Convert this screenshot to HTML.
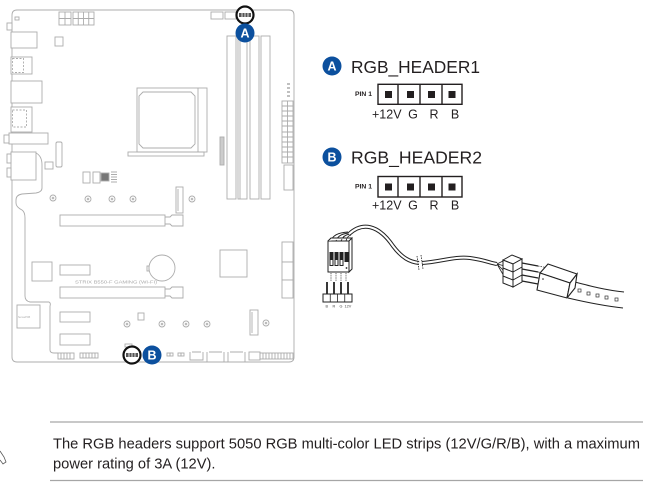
<!DOCTYPE html>
<html><head><meta charset="utf-8"><style>
html,body{margin:0;padding:0;background:#fff;}
svg{display:block;}
</style></head><body>
<svg width="663" height="490" viewBox="0 0 663 490" xmlns="http://www.w3.org/2000/svg">
<!-- ============ MOTHERBOARD ============ -->
<g fill="none" stroke="#acacac" stroke-width="0.9">
  <path d="M12,15 Q12,10 17,10 L289,10 Q294,10 294,15 L294,357 Q294,362 289,362 L17,362 Q12,362 12,357 Z"/>
  <!-- rear IO -->
  <rect x="7" y="23" width="5" height="7" fill="#fff"/>
  <rect x="15" y="17" width="4" height="3"/>
  <rect x="11" y="32" width="26" height="16" fill="#fff"/>
  <rect x="11" y="57" width="21" height="17" fill="#fff"/>
  <rect x="12.5" y="58.5" width="11" height="14" stroke-dasharray="2,1.5"/>
  <rect x="11" y="81" width="31" height="22" fill="#fff"/>
  <rect x="11" y="107" width="21" height="25" fill="#fff"/>
  <rect x="12.5" y="110" width="14" height="17" stroke-dasharray="2,1.5"/>
  <rect x="9" y="133" width="39" height="11" fill="#fff"/>
  <rect x="4" y="135" width="5" height="8" fill="#fff"/>
  <rect x="11" y="152" width="25" height="28" fill="#fff"/>
  <rect x="7" y="154" width="4" height="9" fill="#fff"/>
  <rect x="7" y="168" width="4" height="9" fill="#fff"/>
  <!-- trace line -->
  <path d="M36,153 Q42,156 42,165 L42,188 Q42,192 36,193 L22,194 Q16,195 16,200 L16,203 Q16,207 22,210 Q25,212 25,218 L25,296 Q25,301 30,302 L49,302 Q51,303 50,306 L50,350 Q50,353 54,353 L58,353"/>
  <rect x="17" y="305" width="23" height="23" fill="#fff"/>
  <!-- top power connectors -->
  <rect x="59" y="12" width="12" height="13"/>
  <path d="M65,12 V25 M59,18.5 H71"/>
  <rect x="73" y="12" width="21" height="13"/>
  <path d="M78.25,12 V25 M83.5,12 V25 M88.75,12 V25 M73,18.5 H94"/>
  <rect x="55" y="37" width="8" height="9"/>
  <!-- CPU socket -->
  <rect x="137" y="88" width="70" height="64"/>
  <path d="M143,92 L191,92 L195,96 L195,144 L191,148 L143,148 L139,144 L139,96 Z"/>
  <path d="M198,88 V152"/>
  <rect x="128" y="152" width="76" height="4"/>
  <!-- top small connectors -->
  <rect x="211" y="12" width="12" height="7"/>
  <rect x="225" y="12" width="11" height="7"/>
  <!-- DIMM -->
  <rect x="227" y="36" width="9" height="163"/>
  <rect x="238" y="36" width="9" height="163"/>
  <path d="M240,36 V199"/>
  <rect x="250" y="36" width="9" height="163"/>
  <rect x="261" y="36" width="9" height="163"/>
  <!-- right side -->
  <path d="M287,84 h3 M287,88 h3 M287,92 h3 M287,96 h3" stroke-width="1.4"/>
  <rect x="282" y="101" width="11" height="62"/>
  <path d="M287.5,101 V163 M282,106 H293 M282,111 H293 M282,116 H293 M282,121 H293 M282,126 H293 M282,132 H293 M282,137 H293 M282,142 H293 M282,147 H293 M282,152 H293 M282,157 H293"/>
  <rect x="284" y="165" width="9" height="25"/>
  <rect x="220" y="137" width="4" height="28" fill="#ccc"/>
  <!-- mid-left -->
  <rect x="56" y="142" width="6" height="25" rx="1.5"/>
  <rect x="45" y="162" width="8" height="7"/>
  <rect x="83" y="172" width="7" height="11"/>
  <rect x="93" y="172" width="7" height="11"/>
  <rect x="101" y="173" width="8" height="8" fill="#777"/>
  <path d="M111,172 h6 M111,174.5 h6 M111,177 h6 M111,179.5 h6 M111,182 h6"/>
  <!-- M.2 / screws -->
  <rect x="176" y="187" width="7" height="26"/>
  <path d="M178,189 V211"/>
  <rect x="250" y="310" width="8" height="25"/>
  <path d="M252,312 V333"/>
  <g fill="#fff">
  <circle cx="53" cy="198" r="3"/><circle cx="88" cy="199" r="3"/><circle cx="112" cy="199" r="3"/><circle cx="133" cy="199" r="3"/><circle cx="192" cy="199" r="3"/>
  <circle cx="127" cy="324" r="3"/><circle cx="162" cy="324" r="3"/><circle cx="186" cy="324" r="3"/><circle cx="207" cy="324" r="3"/><circle cx="266" cy="323" r="3"/>
  </g>
  <g fill="#bbb" stroke="none">
  <circle cx="53" cy="198" r="1.3"/><circle cx="88" cy="199" r="1.3"/><circle cx="112" cy="199" r="1.3"/><circle cx="133" cy="199" r="1.3"/><circle cx="192" cy="199" r="1.3"/>
  <circle cx="127" cy="324" r="1.3"/><circle cx="162" cy="324" r="1.3"/><circle cx="186" cy="324" r="1.3"/><circle cx="207" cy="324" r="1.3"/><circle cx="266" cy="323" r="1.3"/>
  </g>
  <!-- PCIe -->
  <rect x="60" y="215" width="105" height="11"/>
  <path d="M165,217 L170,217 L172,215 L183,215 L183,226 L172,226 L170,224 L165,224"/>
  <rect x="60" y="287" width="105" height="11"/>
  <path d="M165,289 L170,289 L172,287 L183,287 L183,298 L172,298 L170,296 L165,296"/>
  <rect x="60" y="265" width="30" height="10"/>
  <rect x="60" y="312" width="30" height="10"/>
  <rect x="60" y="334" width="30" height="11"/>
  <rect x="32" y="262" width="20" height="19"/>
  <circle cx="162" cy="268" r="13"/>
  <rect x="147" y="266" width="2" height="5"/>
  <rect x="220" y="250" width="27" height="27"/>
  <rect x="282" y="242" width="11" height="20" fill="#fff"/>
  <rect x="282" y="262" width="11" height="18" fill="#fff"/>
  <rect x="282" y="280" width="11" height="18" fill="#fff"/>
  <rect x="138" y="313" width="6" height="7"/>
  <!-- bottom connectors -->
  <rect x="58" y="353" width="16" height="6"/>
  <path d="M61,353 V359 M64,353 V359 M67,353 V359 M70,353 V359"/>
  <rect x="80" y="353" width="18" height="5"/>
  <path d="M83,353 V358 M86,353 V358 M89,353 V358 M92,353 V358 M95,353 V358"/>
  <rect x="125" y="344" width="7" height="3"/>
  <rect x="167" y="353" width="3" height="3"/><rect x="170" y="353" width="3" height="3"/>
  <rect x="178" y="353" width="3" height="3"/><rect x="181" y="353" width="3" height="3"/>
  <path d="M190,352 V360 H203 V352 M192,352 H201"/>
  <path d="M207,352 V362 H224 V352 M209,352 H222"/>
  <path d="M228,352 V362 H245 V352 M230,352 H243"/>
  <rect x="249" y="352" width="11" height="8"/>
  <rect x="260" y="353" width="33" height="6"/>
  <path d="M263,353 V359 M266,353 V359 M269,353 V359 M272,353 V359 M275,353 V359 M278,353 V359 M281,353 V359 M284,353 V359 M287,353 V359 M290,353 V359"/>
</g>
<text x="75" y="283.5" font-family="Liberation Sans, sans-serif" font-size="4.5" fill="#aaa" textLength="82" lengthAdjust="spacingAndGlyphs">STRIX B550-F GAMING (WI-FI)</text>
<text x="18" y="318" font-family="Liberation Sans, sans-serif" font-size="2.5" fill="#aaa">SensePCB</text>

<!-- header A on board -->
<circle cx="245" cy="15" r="8.5" fill="#fff" stroke="#111" stroke-width="2.2"/>
<rect x="239" y="13" width="12" height="4" fill="#555"/>
<path d="M242,13 V17 M245,13 V17 M248,13 V17" stroke="#fff" stroke-width="0.8"/>
<circle cx="245" cy="33" r="9.5" fill="#0c509e"/>
<text x="245" y="37.5" text-anchor="middle" font-family="Liberation Sans, sans-serif" font-weight="bold" font-size="12.5" fill="#fff">A</text>
<!-- header B on board -->
<circle cx="132" cy="355" r="8.5" fill="#fff" stroke="#111" stroke-width="2.2"/>
<rect x="126" y="353" width="12" height="4" fill="#555"/>
<path d="M129,353 V357 M132,353 V357 M135,353 V357" stroke="#fff" stroke-width="0.8"/>
<circle cx="152" cy="355" r="9.5" fill="#0c509e"/>
<text x="152" y="359.5" text-anchor="middle" font-family="Liberation Sans, sans-serif" font-weight="bold" font-size="12.5" fill="#fff">B</text>

<!-- ============ PIN DEFINITIONS ============ -->
<g font-family="Liberation Sans, sans-serif" fill="#231f20">
  <circle cx="332" cy="66" r="9.5" fill="#0c509e"/>
  <text x="332" y="70.5" text-anchor="middle" font-weight="bold" font-size="12.5" fill="#fff">A</text>
  <text x="351" y="73" font-size="17.5" textLength="129" lengthAdjust="spacingAndGlyphs">RGB_HEADER1</text>
  <text x="355" y="96" font-size="6.5" font-weight="bold" textLength="17" lengthAdjust="spacingAndGlyphs">PIN 1</text>
  <text x="372" y="118.3" font-size="12.5">+12V</text>
  <text x="413" y="118.3" font-size="12.5" text-anchor="middle">G</text>
  <text x="434" y="118.3" font-size="12.5" text-anchor="middle">R</text>
  <text x="455" y="118.3" font-size="12.5" text-anchor="middle">B</text>

  <circle cx="332" cy="157" r="9.5" fill="#0c509e"/>
  <text x="332" y="161.5" text-anchor="middle" font-weight="bold" font-size="12.5" fill="#fff">B</text>
  <text x="351" y="163.5" font-size="17.5" textLength="131" lengthAdjust="spacingAndGlyphs">RGB_HEADER2</text>
  <text x="355" y="188.5" font-size="6.5" font-weight="bold" textLength="17" lengthAdjust="spacingAndGlyphs">PIN 1</text>
  <text x="372" y="209.3" font-size="12.5">+12V</text>
  <text x="413" y="209.3" font-size="12.5" text-anchor="middle">G</text>
  <text x="434" y="209.3" font-size="12.5" text-anchor="middle">R</text>
  <text x="455" y="209.3" font-size="12.5" text-anchor="middle">B</text>
</g>
<g fill="none" stroke="#231f20" stroke-width="1.4">
  <rect x="378" y="84.3" width="84" height="20"/>
  <path d="M398,84.3 V104.3 M420,84.3 V104.3 M442,84.3 V104.3"/>
  <rect x="378" y="176.5" width="84" height="20.5"/>
  <path d="M398,176.5 V197 M420,176.5 V197 M442,176.5 V197"/>
</g>
<g fill="#231f20">
  <rect x="385" y="91" width="7" height="7"/><rect x="407" y="91" width="7" height="7"/><rect x="428" y="91" width="7" height="7"/><rect x="448.5" y="91" width="7" height="7"/>
  <rect x="385" y="183.5" width="7" height="7"/><rect x="407" y="183.5" width="7" height="7"/><rect x="428" y="183.5" width="7" height="7"/><rect x="448.5" y="183.5" width="7" height="7"/>
</g>

<!-- ============ CABLE ILLUSTRATION ============ -->
<g fill="none" stroke="#222" stroke-width="0.9">
  <!-- wires from female housing -->
  <path d="M331,241 Q333,233 348,232 M336,241 Q338,234 349,233 M341,241 Q343,235 350,234 M346,241 Q347,236 351,235"/>
</g>
<!-- cable tube -->
<path d="M349,234 C362,222 378,224 393,246 C402,258 410,262 419,263" stroke="#222" stroke-width="4" fill="none"/>
<path d="M349,234 C362,222 378,224 393,246 C402,258 410,262 419,263" stroke="#fff" stroke-width="2" fill="none"/>
<path d="M422,263 C440,262 455,256 470,258 C485,260 490,263 497,264" stroke="#222" stroke-width="4" fill="none"/>
<path d="M422,263 C440,262 455,256 470,258 C485,260 490,263 497,264" stroke="#fff" stroke-width="2" fill="none"/>
<path d="M417,256 L419,270 M421,255 L423,269" stroke="#222" stroke-width="0.8" stroke-dasharray="1.5,1"/>
<!-- female housing -->
<g stroke="#222" stroke-width="1" fill="#fff">
  <rect x="328" y="241" width="21" height="31"/>
  <path d="M349,241 L352,238 L352,269 L349,272 Z"/>
  <path d="M328,241 L331,238 L352,238"/>
</g>
<g fill="#222">
  <rect x="329.5" y="252" width="4" height="14"/><rect x="334.5" y="252" width="4" height="14"/><rect x="339.5" y="252" width="4" height="14"/><rect x="344.5" y="252" width="4" height="10"/>
  <circle cx="346.5" cy="268" r="0.9"/>
</g>
<g fill="#fff">
  <rect x="330.5" y="260" width="2" height="5"/><rect x="335.5" y="260" width="2" height="5"/><rect x="340.5" y="260" width="2" height="5"/>
</g>
<g stroke="#222" fill="none">
  <path d="M331,273 V281 M336,273 V281 M341,273 V281 M346,273 V281" stroke-width="0.7" stroke-dasharray="1.2,1"/>
  <path d="M327,282 V295 M334,282 V295 M341,282 V295 M348,282 V295" stroke-width="1.8"/>
  <rect x="323" y="294" width="29" height="8" fill="#fff" stroke-width="1"/>
  <path d="M330.25,294 V302 M337.5,294 V302 M344.75,294 V302" stroke-width="0.8"/>
</g>
<g font-family="Liberation Sans, sans-serif" font-size="3.8" fill="#444">
  <text x="325.5" y="307.5">B</text><text x="332.5" y="307.5">R</text><text x="339.5" y="307.5">G</text><text x="344.5" y="307.5">12V</text>
</g>
<!-- male connector on cable end -->
<g stroke="#222" stroke-width="0.8" fill="none">
  <path d="M497,264 L505,260 M497,264 L505,266 M497,264 L505,272 M497,264 L505,278"/>
</g>
<g stroke="#222" stroke-width="1" fill="#fff">
  <path d="M503,260 L512,255 L522,259 L513,264 Z"/>
  <path d="M503,260 L513,264 L513,287 L503,283 Z"/>
  <path d="M513,264 L522,259 L522,282 L513,287 Z"/>
  <path d="M503,268 L513,272 M503,276 L513,280 M513,272 L522,267 M513,280 L522,275" fill="none"/>
</g>
<g stroke="#222" fill="none">
  <path d="M522,263 L538,266 M522,269 L538,272 M522,275 L538,278 M522,281 L538,284" stroke-width="1.3"/>
  <path d="M538,266 L546,267.5 M538,272 L546,273.5 M538,278 L546,279.5 M538,284 L544,285" stroke-width="0.7" stroke-dasharray="1.5,1"/>
</g>
<!-- LED strip connector box -->
<g stroke="#222" stroke-width="1.1" fill="#fff">
  <path d="M575,282 C590,286 605,290 624,292 L623,308 C605,306 585,302 568,298 Z" stroke="none"/>
  <path d="M575,282 C590,286 605,290 624,292 M568,298 C585,302 605,306 623,308" fill="none"/>
  <path d="M540,273 L548,264 L577,274 L570,283 Z"/>
  <path d="M540,273 L570,283 L567,298 L537,290 Z"/>
  <path d="M570,283 L577,274 L575,288 L567,298 Z"/>
</g>
<circle cx="543" cy="279" r="0.8" fill="#222"/>
<g stroke="#333" stroke-width="0.7" fill="none">
  <rect x="578" y="289" width="3" height="3"/><rect x="587" y="292" width="3" height="3"/><rect x="596" y="294" width="3" height="3"/><rect x="605" y="296" width="3" height="3"/><rect x="615" y="298" width="3" height="3"/>
</g>

<!-- ============ NOTE ============ -->
<path d="M0,451 L4,457 L6,462 L3,464 L0,460" fill="none" stroke="#555" stroke-width="0.8"/>
<line x1="50" y1="422" x2="643" y2="422" stroke="#a6a6a6" stroke-width="1.2"/>
<line x1="50" y1="480.5" x2="643" y2="480.5" stroke="#a6a6a6" stroke-width="1.2"/>
<g font-family="Liberation Sans, sans-serif" font-size="14.7" fill="#231f20">
  <text x="53" y="448.5" textLength="587" lengthAdjust="spacingAndGlyphs">The RGB headers support 5050 RGB multi-color LED strips (12V/G/R/B), with a maximum</text>
  <text x="53" y="468.5">power rating of 3A (12V).</text>
</g>
</svg>
</body></html>
